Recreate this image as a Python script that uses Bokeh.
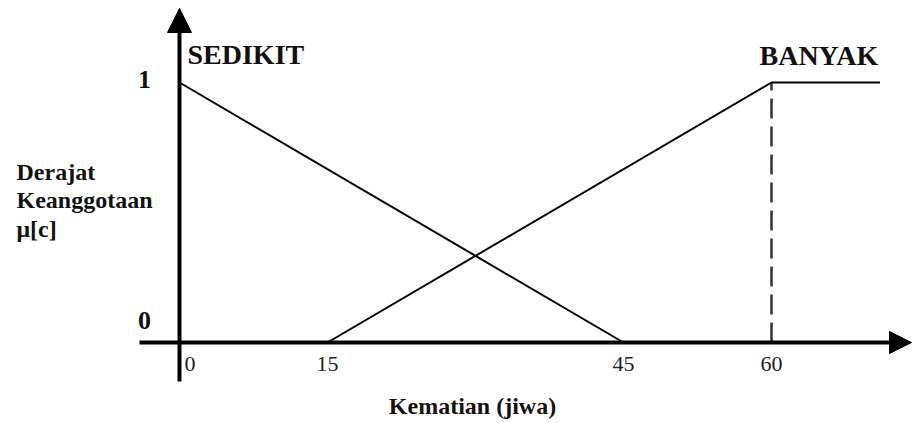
from bokeh.plotting import figure
from bokeh.models import Range1d, Arrow, NormalHead
from bokeh.core.properties import value
from bokeh.embed import file_html
from bokeh.resources import INLINE

# ---- data ----
x_tick_values = [0, 15, 45, 60]
x_tick_labels = ["0", "15", "45", "60"]
y_tick_values = [0, 1]
y_tick_labels = ["0", "1"]
sedikit_x = [0, 45]
sedikit_y = [1, 0]
banyak_x = [15, 60, 71]
banyak_y = [0, 1, 1]
set_names = ["SEDIKIT", "BANYAK"]
set_name_x = [0, 60]
x_title = "Kematian (jiwa)"
y_title_lines = ["Derajat", "Keanggotaan", "μ[c]"]

# ---- layout (pixels) ----
W, H = 913, 423
M = 0  # the Bokeh page template has no body margin
PX_X0, PX_X60 = 179, 771   # page x of x=0 and x=60
PX_Y0, PX_Y1 = 342, 82     # page y of y=0 and y=1
sx = (PX_X60 - PX_X0) / 60.0
sy = (PX_Y0 - PX_Y1) / 1.0
DY = -10  # text baseline correction for the svg backend

def xd(px):
    return (px - PX_X0) / sx

def yd(py):
    return (PX_Y0 - py) / sy

p = figure(width=W, height=H, output_backend="svg", toolbar_location=None,
           x_axis_location=None, y_axis_location=None, min_border=0,
           x_range=Range1d(xd(M), xd(M + W)), y_range=Range1d(yd(M + H), yd(M)))
p.outline_line_color = None
p.xgrid.visible = False
p.ygrid.visible = False
p.background_fill_color = "white"
p.border_fill_color = "white"

SERIF = value("Liberation Serif")

# axes with arrows
p.add_layout(Arrow(x_start=xd(139), y_start=0, x_end=xd(911), y_end=0,
                   line_width=4, line_color="black",
                   end=NormalHead(size=22, fill_color="black", line_color="black", line_width=1)))
p.add_layout(Arrow(x_start=0, y_start=yd(381), x_end=0, y_end=yd(8),
                   line_width=4, line_color="black",
                   end=NormalHead(size=24, fill_color="black", line_color="black", line_width=1)))

# dashed line at BANYAK peak
p.segment(x0=[banyak_x[1]], y0=[0], x1=[banyak_x[1]], y1=[banyak_y[1]],
          line_color="#333333", line_width=2.5, line_dash="20 8")

# membership functions
p.line(sedikit_x, sedikit_y, line_color="black", line_width=2)
p.line(banyak_x, banyak_y, line_color="black", line_width=2)

# x tick labels
p.text(x=[x_tick_values[0]], y=[0], text=[x_tick_labels[0]], text_font=SERIF,
       text_font_size="22px", text_align="left", text_baseline="alphabetic",
       x_offset=5, y_offset=31 + DY, text_color="#222222")
p.text(x=x_tick_values[1:], y=[0] * 3, text=x_tick_labels[1:], text_font=SERIF,
       text_font_size="22px", text_align="center", text_baseline="alphabetic",
       y_offset=31 + DY, text_color="#222222")

# y tick labels
p.text(x=[0], y=[y_tick_values[0]], text=[y_tick_labels[0]], text_font=SERIF,
       text_font_style="bold", text_font_size="26px", text_align="center",
       text_baseline="alphabetic", x_offset=-35, y_offset=-12 + DY, text_color="#111111")
p.text(x=[0], y=[y_tick_values[1]], text=[y_tick_labels[1]], text_font=SERIF,
       text_font_style="bold", text_font_size="26px", text_align="center",
       text_baseline="alphabetic", x_offset=-35, y_offset=7 + DY, text_color="#111111")

# set names
p.text(x=[set_name_x[0]], y=[1], text=[set_names[0]], text_font=SERIF,
       text_font_style="bold", text_font_size="28px", text_align="left",
       text_baseline="alphabetic", x_offset=8, y_offset=-18 + DY, text_color="#111111")
p.text(x=[set_name_x[1]], y=[1], text=[set_names[1]], text_font=SERIF,
       text_font_style="bold", text_font_size="28px", text_align="left",
       text_baseline="alphabetic", x_offset=-12, y_offset=-17 + DY, text_color="#111111")

# y title (three lines)
for line, off in zip(y_title_lines, [99, 127, 156]):
    p.text(x=[0], y=[1], text=[line], text_font=SERIF, text_font_style="bold",
           text_font_size="24px", text_align="left", text_baseline="alphabetic",
           x_offset=-163, y_offset=off + DY, text_color="#111111")

# x title
p.text(x=[30], y=[0], text=[x_title], text_font=SERIF, text_font_style="bold",
       text_font_size="24px", text_align="center", text_baseline="alphabetic",
       x_offset=-3, y_offset=73 + DY, text_color="#111111")

open("out.html", "w").write(file_html(p, INLINE))
